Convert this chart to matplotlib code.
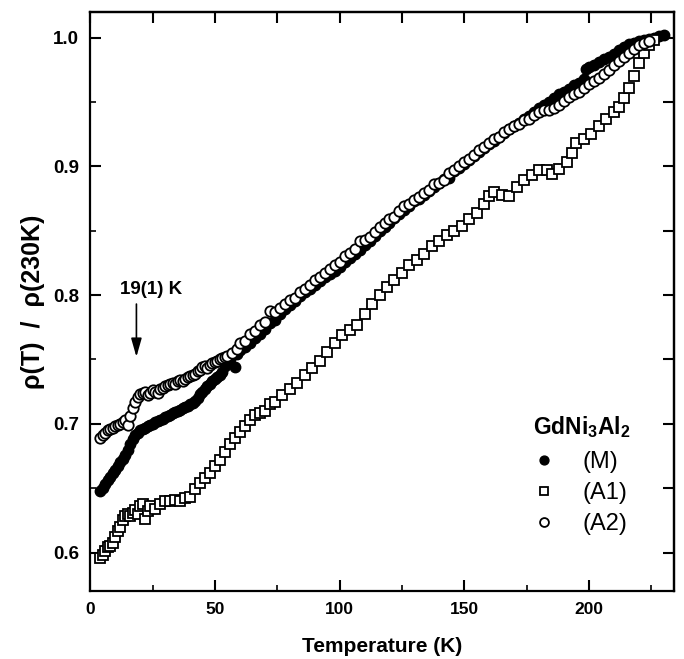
import matplotlib
matplotlib.use('Agg')
import matplotlib.pyplot as plt
from matplotlib.ticker import MultipleLocator

plt.rcParams['font.family'] = ['Liberation Sans', 'DejaVu Sans']
plt.rcParams['mathtext.fontset'] = 'custom'
plt.rcParams['mathtext.rm'] = 'Liberation Sans'
plt.rcParams['mathtext.bf'] = 'Liberation Sans:bold'

# sample (M), filled circles
T_M = [4, 5, 6, 7, 8, 9, 10, 11, 12, 13, 14, 15, 16, 17, 18, 19, 20, 21, 22, 23,
       24, 25, 26, 27, 28, 29, 30, 31, 32, 33, 34, 35, 36, 37, 38, 39, 40, 41, 42, 43,
       44, 45, 46, 47, 48, 49, 50, 51, 52, 53, 54, 55, 56, 58, 59, 60, 62, 64, 66, 68,
       70, 72, 74, 76, 78, 80, 82, 84, 86, 88, 90, 92, 94, 96, 98, 100, 102, 104, 106, 108,
       110, 112, 114, 116, 118, 120, 122, 124, 126, 128, 130, 132, 134, 136, 138, 140, 142, 144, 146, 148,
       150, 152, 154, 156, 158, 160, 162, 164, 166, 168, 170, 172, 174, 176, 178, 180, 182, 184, 186, 188,
       190, 192, 194, 196, 198, 199, 200, 202, 204, 206, 208, 210, 212, 214, 216, 218, 220, 222, 224, 226,
       228, 230]
rho_M = [0.648, 0.650, 0.653, 0.656, 0.659, 0.662, 0.664, 0.667, 0.670, 0.673, 0.676, 0.680, 0.684, 0.688, 0.691, 0.693, 0.695, 0.696, 0.697, 0.698,
         0.699, 0.700, 0.701, 0.702, 0.703, 0.704, 0.705, 0.706, 0.707, 0.708, 0.709, 0.710, 0.711, 0.712, 0.713, 0.714, 0.715, 0.716, 0.718, 0.720,
         0.723, 0.725, 0.727, 0.729, 0.731, 0.733, 0.735, 0.736, 0.738, 0.740, 0.745, 0.748, 0.750, 0.744, 0.754, 0.757, 0.760, 0.763, 0.767, 0.770,
         0.774, 0.778, 0.781, 0.785, 0.789, 0.792, 0.795, 0.799, 0.802, 0.805, 0.808, 0.811, 0.814, 0.816, 0.819, 0.822, 0.826, 0.829, 0.832, 0.835,
         0.839, 0.842, 0.846, 0.850, 0.853, 0.856, 0.860, 0.863, 0.866, 0.869, 0.873, 0.875, 0.878, 0.881, 0.884, 0.887, 0.890, 0.891, 0.896, 0.899,
         0.902, 0.905, 0.908, 0.911, 0.914, 0.917, 0.920, 0.923, 0.926, 0.929, 0.931, 0.934, 0.937, 0.939, 0.942, 0.945, 0.948, 0.950, 0.953, 0.956,
         0.958, 0.960, 0.963, 0.965, 0.968, 0.976, 0.977, 0.979, 0.981, 0.983, 0.985, 0.987, 0.990, 0.993, 0.995, 0.996, 0.997, 0.998, 0.999, 1.000,
         1.001, 1.002]

# sample (A1), open squares
T_A1 = [4, 5, 6, 7, 8, 9, 10, 11, 12, 13, 14, 15, 16, 17, 18, 19, 20, 21, 22, 23,
        24, 26, 28, 30, 32, 34, 36, 38, 40, 42, 44, 46, 48, 50, 52, 54, 56, 58, 60, 62,
        64, 66, 68, 70, 72, 74, 77, 80, 83, 86, 89, 92, 95, 98, 101, 104, 107, 110, 113, 116,
        119, 122, 125, 128, 131, 134, 137, 140, 143, 146, 149, 152, 155, 158, 160, 162, 165, 168, 171, 174,
        177, 180, 183, 185, 188, 191, 193, 195, 198, 201, 204, 207, 210, 212, 214, 216, 218, 220, 222, 224,
        226]
rho_A1 = [0.596, 0.598, 0.601, 0.604, 0.605, 0.607, 0.612, 0.617, 0.620, 0.625, 0.628, 0.630, 0.628, 0.631, 0.633, 0.630, 0.636, 0.638, 0.626, 0.632,
          0.636, 0.634, 0.638, 0.640, 0.640, 0.641, 0.640, 0.642, 0.643, 0.649, 0.654, 0.658, 0.662, 0.667, 0.672, 0.678, 0.684, 0.689, 0.694, 0.698,
          0.703, 0.707, 0.708, 0.710, 0.715, 0.717, 0.722, 0.727, 0.732, 0.738, 0.743, 0.749, 0.756, 0.763, 0.769, 0.773, 0.777, 0.785, 0.793, 0.800,
          0.806, 0.812, 0.817, 0.823, 0.827, 0.832, 0.838, 0.842, 0.847, 0.850, 0.854, 0.859, 0.864, 0.871, 0.877, 0.880, 0.878, 0.877, 0.884, 0.889,
          0.893, 0.897, 0.897, 0.894, 0.898, 0.903, 0.910, 0.918, 0.921, 0.925, 0.931, 0.937, 0.942, 0.946, 0.953, 0.961, 0.970, 0.980, 0.988, 0.994,
          0.998]

# sample (A2), open circles
T_A2 = [4, 5, 6, 7, 8, 9, 10, 11, 12, 13, 14, 15, 16, 17, 18, 19, 20, 21, 22, 23,
        24, 25, 26, 27, 28, 29, 30, 31, 32, 33, 34, 35, 36, 37, 38, 39, 40, 41, 42, 43,
        44, 45, 46, 47, 48, 49, 50, 51, 52, 53, 54, 55, 57, 59, 60, 62, 64, 66, 68, 70,
        72, 74, 76, 78, 80, 82, 84, 86, 88, 90, 92, 94, 96, 98, 100, 102, 104, 106, 108, 110,
        112, 114, 116, 118, 120, 122, 124, 126, 128, 130, 132, 134, 136, 138, 140, 142, 144, 146, 148, 150,
        152, 154, 156, 158, 160, 162, 164, 166, 168, 170, 172, 174, 176, 178, 180, 182, 184, 186, 188, 190,
        192, 194, 196, 198, 200, 202, 204, 206, 208, 210, 212, 214, 216, 218, 220, 222, 224]
rho_A2 = [0.689, 0.691, 0.693, 0.695, 0.696, 0.697, 0.698, 0.699, 0.700, 0.701, 0.703, 0.699, 0.706, 0.712, 0.717, 0.721, 0.723, 0.724, 0.725, 0.722,
          0.724, 0.726, 0.725, 0.724, 0.727, 0.728, 0.729, 0.730, 0.731, 0.732, 0.731, 0.733, 0.734, 0.733, 0.735, 0.736, 0.737, 0.738, 0.739, 0.741,
          0.742, 0.744, 0.745, 0.743, 0.746, 0.747, 0.748, 0.749, 0.750, 0.751, 0.752, 0.753, 0.755, 0.758, 0.763, 0.764, 0.770, 0.772, 0.777, 0.779,
          0.788, 0.787, 0.790, 0.793, 0.796, 0.798, 0.802, 0.805, 0.808, 0.812, 0.814, 0.817, 0.820, 0.823, 0.826, 0.830, 0.833, 0.836, 0.842, 0.843,
          0.845, 0.849, 0.853, 0.856, 0.859, 0.861, 0.865, 0.869, 0.871, 0.874, 0.876, 0.879, 0.882, 0.886, 0.887, 0.889, 0.895, 0.897, 0.900, 0.903,
          0.906, 0.909, 0.913, 0.915, 0.918, 0.921, 0.923, 0.927, 0.929, 0.931, 0.933, 0.936, 0.937, 0.940, 0.942, 0.944, 0.944, 0.945, 0.948, 0.951,
          0.954, 0.956, 0.958, 0.961, 0.964, 0.966, 0.969, 0.972, 0.975, 0.979, 0.982, 0.985, 0.988, 0.991, 0.994, 0.996, 0.997]

fig = plt.figure(figsize=(6.84, 6.59), dpi=100)
ax = fig.add_axes([0.132, 0.103, 0.853, 0.879])

ms = 7.5
ax.plot(T_M, rho_M, 'o', ms=ms, mfc='black', mec='black', mew=1.0, ls='none', label='(M)')
ax.plot(T_A1, rho_A1, 's', ms=ms - 0.5, mfc='white', mec='black', mew=1.3, ls='none', label='(A1)')
ax.plot(T_A2, rho_A2, 'o', ms=ms, mfc='white', mec='black', mew=1.3, ls='none', label='(A2)')

ax.set_xlim(0, 234)
ax.set_ylim(0.57, 1.02)

ax.xaxis.set_major_locator(MultipleLocator(50))
ax.xaxis.set_minor_locator(MultipleLocator(25))
ax.yaxis.set_major_locator(MultipleLocator(0.1))
ax.yaxis.set_minor_locator(MultipleLocator(0.05))
ax.yaxis.set_major_formatter(matplotlib.ticker.FormatStrFormatter('%.1f'))

ax.tick_params(which='major', direction='in', length=8, width=1.5, labelsize=12.5, pad=8)
ax.tick_params(axis='y', which='major', labelsize=13.5)
ax.tick_params(which='minor', direction='in', length=4, width=1.2)
for lab in ax.get_xticklabels() + ax.get_yticklabels():
    lab.set_fontweight('bold')

# mirrored ticks on top/right, all the same length
top = ax.secondary_xaxis('top')
top.xaxis.set_major_locator(MultipleLocator(25))
top.tick_params(direction='in', length=8, width=1.5, labeltop=False)
right = ax.secondary_yaxis('right')
right.yaxis.set_major_locator(MultipleLocator(0.05))
right.tick_params(direction='in', length=8, width=1.5, labelright=False)

for sp in ax.spines.values():
    sp.set_linewidth(1.6)
top.spines['top'].set_linewidth(1.6)
right.spines['right'].set_linewidth(1.6)

ax.set_xlabel('Temperature (K)', fontsize=15, fontweight='bold', labelpad=14)
ax.set_ylabel('ρ(T)  /  ρ(230K)', fontsize=18, fontweight='bold', labelpad=6)

ax.annotate('', xy=(18.5, 0.752), xytext=(18.5, 0.793),
            arrowprops=dict(arrowstyle='-|>,head_length=0.7,head_width=0.2', color='black',
                            lw=1.2, mutation_scale=16, shrinkA=0, shrinkB=0))
ax.text(24.5, 0.804, '19(1) K', fontsize=13.5, fontweight='bold', ha='center', va='center')

leg = ax.legend(title=r'$\mathbf{GdNi_3Al_2}$', loc='upper left', bbox_to_anchor=(0.758, 0.305),
                frameon=False, fontsize=17, title_fontsize=16.5, handletextpad=1.1,
                labelspacing=0.38, markerscale=0.85, handlelength=1.0, borderpad=0, borderaxespad=0)
leg._legend_box.align = 'left'
leg._legend_box.sep = 8

fig.savefig('out.png', dpi=100)
